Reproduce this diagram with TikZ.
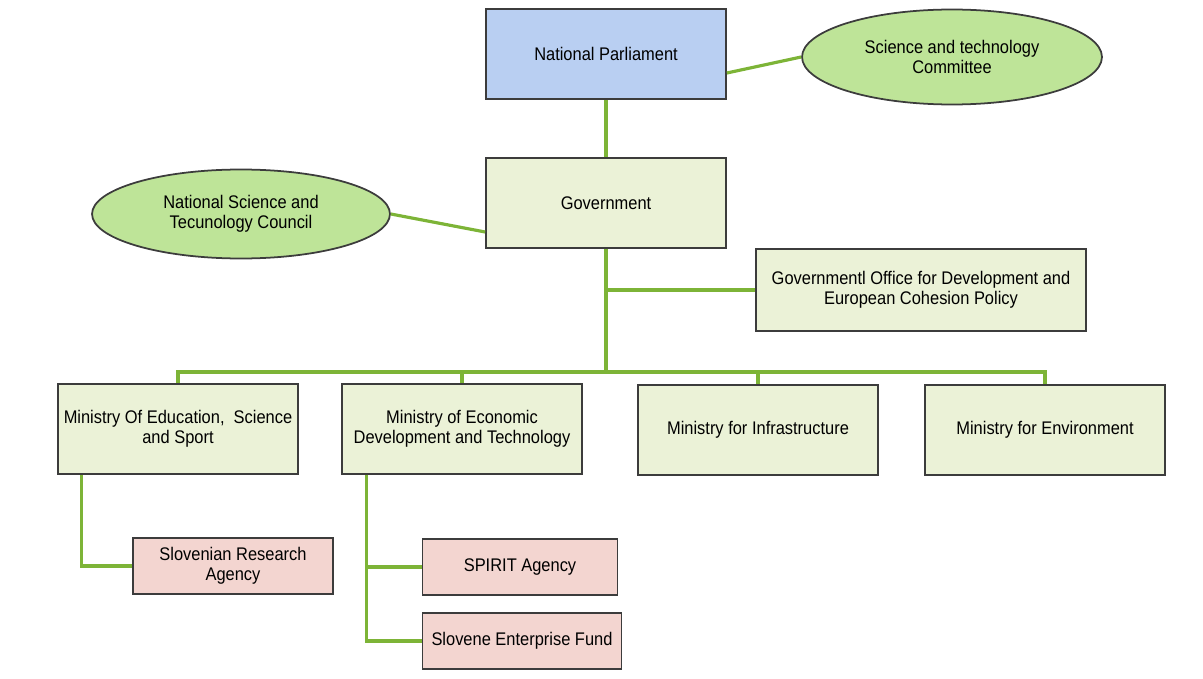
\documentclass[tikz,border=0pt]{standalone}
\usepackage{fontspec}
\setmainfont{Liberation Sans}[FakeStretch=0.9]
\usepackage{tikz}
\usetikzlibrary{shapes.geometric}

\definecolor{boxedge}{RGB}{60,60,60}
\definecolor{lineg}{RGB}{125,180,55}
\definecolor{parlblue}{RGB}{185,207,242}
\definecolor{minfill}{RGB}{235,242,215}
\definecolor{ellfill}{RGB}{190,228,152}
\definecolor{agfill}{RGB}{243,213,208}

\begin{document}
\begin{tikzpicture}[x=0.02cm, y=-0.02cm,
    base/.style = {draw=boxedge, line width=1pt, align=center, inner sep=2pt, font=\fontsize{10.4}{11.4}\selectfont},
    main/.style = {base, rectangle, fill=minfill, minimum width=4.8cm, minimum height=1.8cm},
    oval/.style = {base, ellipse, fill=ellfill, minimum width=6cm, minimum height=1.9cm},
    agency/.style = {base, rectangle, fill=agfill, minimum height=1.13cm},
    link/.style = {draw=lineg, line width=1.8pt}]
    \useasboundingbox (0,0) rectangle (1203,679);

    \node[main, fill=parlblue] (parl) at (606,54) {National Parliament};
    \node[oval] (stc) at (952,57) {Science and technology\\Committee};
    \node[main] (gov) at (606,203) {Government};
    \node[oval, minimum width=5.96cm, minimum height=1.78cm] (nstc) at (241,214) {National Science and\\Tecunology Council};
    \node[main, minimum width=6.6cm, minimum height=1.64cm] (office) at (921,290) {Governmentl Office for Development and\\European Cohesion Policy};

    \node[main] (m1) at (178,429) {Ministry Of Education,\ \ Science\\and Sport};
    \node[main] (m2) at (462,429) {Ministry of Economic\\Development and Technology};
    \node[main] (m3) at (758,430) {Ministry for Infrastructure};
    \node[main] (m4) at (1045,430) {Ministry for Environment};

    \node[agency, minimum width=4cm] (sra) at (233,566) {Slovenian Research\\Agency};
    \node[agency, minimum width=3.9cm] (spirit) at (520,567) {SPIRIT Agency};
    \node[agency, minimum width=3.98cm] (sef) at (522,641) {Slovene Enterprise Fund};

    \coordinate (bus) at (606,372);

    \draw[link] ([yshift=-0.38cm]parl.east) -- (stc.west);
    \draw[link] (parl) -- (gov);
    \draw[link] (nstc.east) -- ([yshift=-0.58cm]gov.west);
    \draw[link] (gov.south) -- (bus);
    \draw[link] (office.west) -- (office.west -| gov.south);
    \draw[link] (m1.north) |- (bus) -| (m4.north);
    \draw[link] (m2.north) -- (m2.north |- bus);
    \draw[link] (m3.north) -- (m3.north |- bus);
    \draw[link] (m1.south west) ++(24,0) |- (sra.west);
    \draw[link] (m2.south west) ++(25,0) |- (spirit.west);
    \draw[link] (m2.south west) ++(25,0) |- (sef.west);
\end{tikzpicture}
\end{document}
